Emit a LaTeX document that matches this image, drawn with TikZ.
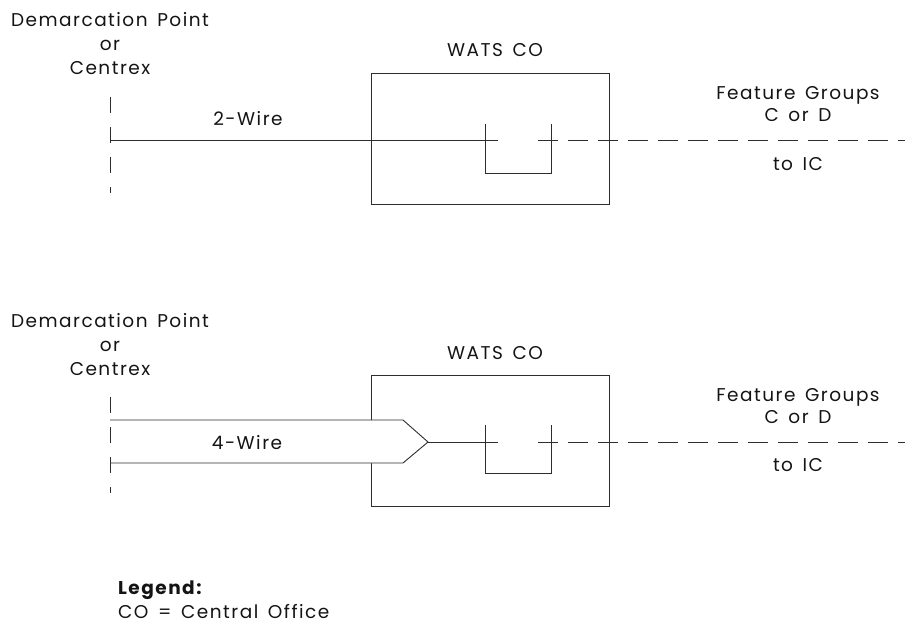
\documentclass[tikz,border=0pt]{standalone}
\usepackage{fontspec}
\setmainfont{Poppins}[LetterSpace=8, WordSpace=1.5]
\usepackage{xcolor}
\usepackage{tikz}
\usetikzlibrary{
  positioning
}
\definecolor{LineGray}{RGB}{45, 45, 45}
\definecolor{TextGray}{RGB}{20, 20, 20}
\tikzset{
    wire/.style={draw=LineGray, line width=0.9pt},
    demarc/.style={draw=LineGray, line width=0.9pt, dash pattern=on 16pt off 14pt},
    trunk/.style={draw=LineGray, line width=0.9pt, dash pattern=on 20pt off 10pt},
    office/.style={rectangle, draw=LineGray, line width=0.9pt, minimum width=238pt, minimum height=131pt, inner sep=0pt},
    txt/.style={font=\fontsize{18.5}{24}\selectfont, text=TextGray, align=center, inner sep=0pt}
}

\begin{document}
\begin{tikzpicture}[x=1pt, y=-1pt]
    \useasboundingbox (0,0) rectangle (905,625);
    % 2-wire arrangement
    \node[txt] (dp1) at (110,44) {Demarcation Point\\or\\Centrex};
    \node[office] (co1) at (490,138.5) {};
    \node[txt] (wats1) at (495,50) {WATS CO};
    \coordinate (dtop1) at (110,97);
    \coordinate (dbot1) at (110,193);
    \draw[demarc] (dtop1) -- (dbot1);
    \coordinate (sw1) at (498,140);
    \draw[wire] (110,140) -- (sw1);
    \node[txt] (tw1) at (248,119) {2-Wire};
    \draw[wire] (485,124) -- (485,173) -- (551,173) -- (551,124);
    \coordinate (fg1end) at (905,140);
    \draw[trunk] (538,140) -- (fg1end);
    \node[txt, font=\fontsize{18.5}{22}\selectfont] (fg1) at (798,104) {Feature Groups\\C or D};
    \node[txt] (ic1) at (798,164) {to IC};

    % 4-wire arrangement
    \node[txt] (dp2) at (110,345) {Demarcation Point\\or\\Centrex};
    \node[office] (co2) at (490,440.5) {};
    \node[txt] (wats2) at (495,353) {WATS CO};
    \coordinate (tip2) at (428,442);
    \fill[white] (110,420) -- (403,420) -- (tip2) -- (403,463) -- (110,463) -- cycle;
    \coordinate (dtop2) at (110,397);
    \coordinate (dbot2) at (110,493);
    \draw[demarc] (dtop2) -- (dbot2);
    \draw[wire] (110,420) -- (403,420) -- (tip2) -- (403,463) -- (110,463);
    \node[txt] (tw2) at (247,443) {4-Wire};
    \coordinate (sw2) at (498,442);
    \draw[wire] (tip2) -- (sw2);
    \draw[wire] (485,425) -- (485,473) -- (551,473) -- (551,425);
    \coordinate (fg2end) at (905,442);
    \draw[trunk] (538,442) -- (fg2end);
    \node[txt, font=\fontsize{18.5}{22}\selectfont] (fg2) at (798,406) {Feature Groups\\C or D};
    \node[txt] (ic2) at (798,465) {to IC};

    % legend
    \node[txt, anchor=west] (leg) at (118,590) {\textbf{Legend:}};
    \node[txt, anchor=west] (legco) at (118,612) {CO = Central Office};
\end{tikzpicture}
\end{document}
